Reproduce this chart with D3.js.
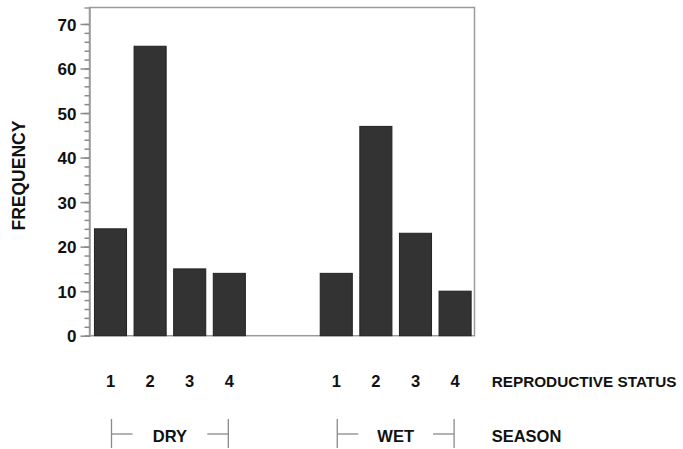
<!DOCTYPE html>
<html>
<head>
<meta charset="utf-8">
<script src="https://cdn.jsdelivr.net/npm/d3@7"></script>
<style>
  body { margin: 0; background: #fff; }
  text { font-family: "Liberation Sans", Arial, sans-serif; font-weight: bold; fill: #111; }
</style>
</head>
<body>
<svg id="chart"></svg>
<script>
// data
const seasons = ["DRY", "WET"];
const statuses = ["1", "2", "3", "4"];
const dryValues = [24, 65, 15, 14];
const wetValues = [14, 47, 23, 10];
const yTicks = [0, 10, 20, 30, 40, 50, 60, 70];

const W = 683, H = 449;
const plotLeft = 89.5, plotRight = 474.5, plotTop = 7.5, plotBottom = 335.7;
const seasonGap = 5.7; // slot offset of the second season

const svg = d3.select("#chart").attr("width", W).attr("height", H);

const rows = [];
seasons.forEach(function (s, si) {
  const vals = si === 0 ? dryValues : wetValues;
  statuses.forEach(function (st, i) {
    rows.push({ season: s, status: st, slot: si * seasonGap + i, value: vals[i] });
  });
});

const x = d3.scaleLinear().domain([-0.53, 9.19]).range([plotLeft, plotRight]);
const y = d3.scaleLinear().domain([0, 73.7]).range([plotBottom, plotTop]);
const barW = x(0.81) - x(0);

// frame
svg.append("rect")
  .attr("x", plotLeft).attr("y", plotTop)
  .attr("width", plotRight - plotLeft).attr("height", plotBottom - plotTop)
  .attr("fill", "none").attr("stroke", "#9a9a9a").attr("stroke-width", 1.5);

// y axis: minor ticks every 2, major every 10
svg.append("g").attr("transform", "translate(" + plotLeft + ",0)")
  .call(d3.axisLeft(y).tickValues(d3.range(0, 72, 2)).tickSize(5).tickFormat(""))
  .call(g => g.select(".domain").attr("stroke", "#9a9a9a").attr("stroke-width", 1.5))
  .call(g => g.selectAll(".tick line").attr("stroke", "#8a8a8a").attr("stroke-width", 1.5));
svg.append("g").attr("transform", "translate(" + plotLeft + ",0)")
  .call(d3.axisLeft(y).tickValues(yTicks).tickSize(9).tickPadding(4))
  .call(g => g.select(".domain").remove())
  .call(g => g.selectAll(".tick line").attr("stroke", "#8a8a8a").attr("stroke-width", 1.5))
  .call(g => g.selectAll(".tick text")
    .style("font-size", "17px").style("font-family", "Liberation Sans, Arial, sans-serif")
    .style("font-weight", "bold").attr("fill", "#111").attr("dy", "0.36em"));

svg.append("text")
  .attr("transform", "translate(25," + ((plotTop + plotBottom) / 2 + 4) + ") rotate(-90)")
  .attr("text-anchor", "middle")
  .style("font-size", "17.5px")
  .text("FREQUENCY");

// bars
svg.selectAll(".bar")
  .data(rows)
  .join("rect")
  .attr("class", "bar")
  .attr("x", d => x(d.slot) - barW / 2)
  .attr("y", d => y(d.value))
  .attr("width", barW)
  .attr("height", d => y(0) - y(d.value))
  .attr("fill", "#333333")
  .attr("stroke", "#222")
  .attr("stroke-width", 1);

// status labels
svg.selectAll(".status")
  .data(rows)
  .join("text")
  .attr("class", "status")
  .attr("x", d => x(d.slot))
  .attr("y", 386.7)
  .attr("text-anchor", "middle")
  .style("font-size", "16.5px")
  .text(d => d.status);

svg.append("text").attr("x", 491.7).attr("y", 386.7)
  .style("font-size", "15.3px").text("REPRODUCTIVE STATUS");

// season brackets
seasons.forEach(function (s, si) {
  const x0 = x(si * seasonGap), x1 = x(si * seasonGap + statuses.length - 1);
  const g = svg.append("g").attr("stroke", "#8a8a8a").attr("stroke-width", 1.3);
  g.append("line").attr("x1", x0 + 1).attr("x2", x0 + 1).attr("y1", 419).attr("y2", 448);
  g.append("line").attr("x1", x1 - 1).attr("x2", x1 - 1).attr("y1", 419).attr("y2", 448);
  g.append("line").attr("x1", x0 + 1).attr("x2", x0 + 22).attr("y1", 434).attr("y2", 434);
  g.append("line").attr("x1", x1 - 22).attr("x2", x1 - 1).attr("y1", 434).attr("y2", 434);
  svg.append("text")
    .attr("x", (x0 + x1) / 2)
    .attr("y", 441.7)
    .attr("text-anchor", "middle")
    .style("font-size", "16.5px")
    .text(s);
});

svg.append("text").attr("x", 491.7).attr("y", 441.7)
  .style("font-size", "16.5px").text("SEASON");
</script>
</body>
</html>
